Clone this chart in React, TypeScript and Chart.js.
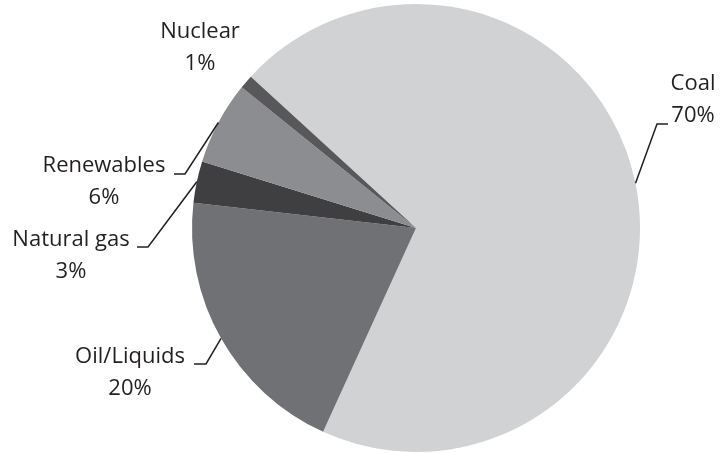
import React, { useEffect, useRef } from "react";
import { Chart, registerables } from "chart.js";

Chart.register(...registerables);

const categories = ["Coal", "Oil/Liquids", "Natural gas", "Renewables", "Nuclear"];
const shares = [70, 20, 3, 6, 1];
const percentLabels = ["70%", "20%", "3%", "6%", "1%"];
const sliceColors = ["#d1d2d4", "#707175", "#3f3f41", "#8c8d90", "#58585a"];

// label placement: text centre x, first-line centre y, optional leader elbow/end
const labelPlacement = [
  { tx: 693, ty: 84, elbow: [657, 124], end: [668, 124] },
  { tx: 130, ty: 357, elbow: [206, 364], end: [194, 364] },
  { tx: 71, ty: 240, elbow: [148, 247], end: [137, 247] },
  { tx: 104, ty: 166, elbow: [185, 174], end: [174, 174] },
  { tx: 200, ty: 32, elbow: null, end: null },
];

const labelPlugin = {
  id: "pieLabels",
  afterDraw(chart: any) {
    const ctx = chart.ctx;
    const meta = chart.getDatasetMeta(0);
    ctx.save();
    ctx.font = "22px 'Open Sans'";
    ctx.fillStyle = "#231f20";
    ctx.textAlign = "center";
    ctx.textBaseline = "middle";
    meta.data.forEach((arc: any, i: number) => {
      const p = labelPlacement[i];
      if (p.elbow && p.end) {
        const mid = (arc.startAngle + arc.endAngle) / 2;
        const sx = arc.x + Math.cos(mid) * arc.outerRadius;
        const sy = arc.y + Math.sin(mid) * arc.outerRadius;
        ctx.strokeStyle = "#231f20";
        ctx.lineWidth = 1.5;
        ctx.beginPath();
        ctx.moveTo(sx, sy);
        ctx.lineTo(p.elbow[0], p.elbow[1]);
        ctx.lineTo(p.end[0], p.end[1]);
        ctx.stroke();
      }
      ctx.fillText(categories[i], p.tx, p.ty);
      ctx.fillText(percentLabels[i], p.tx, p.ty + 32);
    });
    ctx.restore();
  },
};

export default function App() {
  const ref = useRef<HTMLCanvasElement>(null);
  useEffect(() => {
    if (!ref.current) return;
    const chart = new Chart(ref.current, {
      type: "pie",
      data: {
        labels: categories,
        datasets: [
          {
            data: shares,
            backgroundColor: sliceColors,
            borderWidth: 0,
          },
        ],
      },
      options: {
        responsive: false,
        animation: false,
        rotation: -47.5,
        layout: { padding: { left: 192, right: 81, top: 4, bottom: 1 } },
        plugins: {
          legend: { display: false },
          tooltip: { enabled: false },
        },
      },
      plugins: [labelPlugin],
    });
    return () => chart.destroy();
  }, []);
  return (
    <div style={{ position: "fixed", left: 0, top: 0, width: 721, height: 453, background: "#fff" }}>
      <canvas ref={ref} width={721} height={453} />
    </div>
  );
}
